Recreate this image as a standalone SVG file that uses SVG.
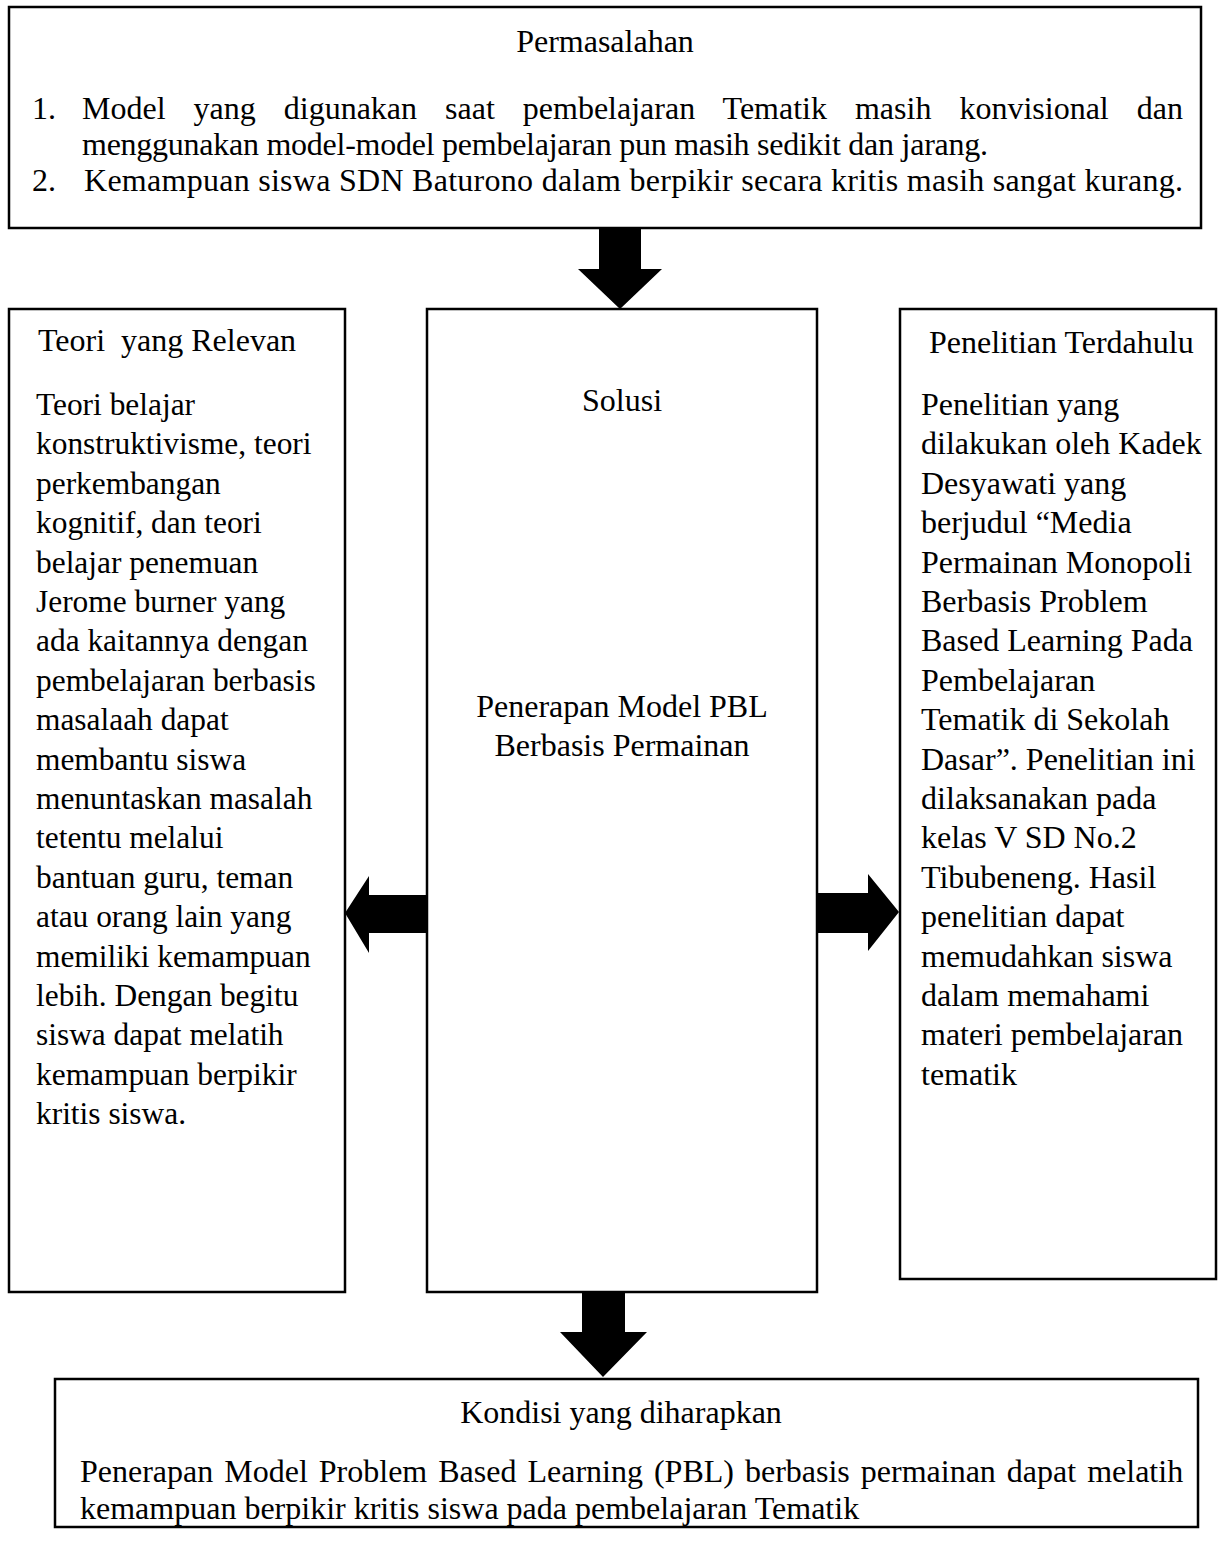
<svg xmlns="http://www.w3.org/2000/svg" width="1225" height="1551" viewBox="0 0 1225 1551">
<style>
.box{fill:#fff;stroke:#000;stroke-width:2.5}
.t{font-family:"Liberation Serif","Times New Roman",serif;font-size:32px;fill:#000}
.s{font-size:31.4px}
.c{text-anchor:middle}
.arr{fill:#000;stroke:none}
</style>
<rect width="1225" height="1551" fill="#fff"/>
<g id="permasalahan">
<rect class="box" x="9" y="7" width="1192" height="221"/>
<text class="t c" x="605" y="52">Permasalahan</text>
<text class="t" x="32" y="119">1.</text>
<text class="t" x="82" y="119" word-spacing="20">Model yang digunakan saat pembelajaran Tematik masih konvisional dan</text>
<text class="t" x="82" y="155" textLength="906" lengthAdjust="spacing">menggunakan model-model pembelajaran pun masih sedikit dan jarang.</text>
<text class="t" x="32" y="191">2.</text>
<text class="t" x="84" y="191" textLength="1099" lengthAdjust="spacing">Kemampuan siswa SDN Baturono dalam berpikir secara kritis masih sangat kurang.</text>
</g>
<g id="teori">
<rect class="box" x="9" y="309" width="336" height="983"/>
<text class="t" x="38" y="351" xml:space="preserve">Teori  yang Relevan</text>
<text class="t s" x="36" y="415">
<tspan x="36" dy="0">Teori belajar</tspan>
<tspan x="36" dy="39.4">konstruktivisme, teori</tspan>
<tspan x="36" dy="39.4">perkembangan</tspan>
<tspan x="36" dy="39.4">kognitif, dan teori</tspan>
<tspan x="36" dy="39.4">belajar penemuan</tspan>
<tspan x="36" dy="39.4">Jerome burner yang</tspan>
<tspan x="36" dy="39.4">ada kaitannya dengan</tspan>
<tspan x="36" dy="39.4">pembelajaran berbasis</tspan>
<tspan x="36" dy="39.4">masalaah dapat</tspan>
<tspan x="36" dy="39.4">membantu siswa</tspan>
<tspan x="36" dy="39.4">menuntaskan masalah</tspan>
<tspan x="36" dy="39.4">tetentu melalui</tspan>
<tspan x="36" dy="39.4">bantuan guru, teman</tspan>
<tspan x="36" dy="39.4">atau orang lain yang</tspan>
<tspan x="36" dy="39.4">memiliki kemampuan</tspan>
<tspan x="36" dy="39.4">lebih. Dengan begitu</tspan>
<tspan x="36" dy="39.4">siswa dapat melatih</tspan>
<tspan x="36" dy="39.4">kemampuan berpikir</tspan>
<tspan x="36" dy="39.4">kritis siswa.</tspan>
</text>
</g>
<g id="solusi">
<rect class="box" x="427" y="309" width="390" height="983"/>
<text class="t c" x="622" y="411">Solusi</text>
<text class="t c" x="622" y="717">Penerapan Model PBL</text>
<text class="t c" x="622" y="756">Berbasis Permainan</text>
</g>
<g id="penelitian">
<rect class="box" x="900" y="309" width="316" height="970"/>
<text class="t" x="929" y="353">Penelitian Terdahulu</text>
<text class="t" x="921" y="415">
<tspan x="921" dy="0">Penelitian yang</tspan>
<tspan x="921" dy="39.4">dilakukan oleh Kadek</tspan>
<tspan x="921" dy="39.4">Desyawati yang</tspan>
<tspan x="921" dy="39.4">berjudul “Media</tspan>
<tspan x="921" dy="39.4">Permainan Monopoli</tspan>
<tspan x="921" dy="39.4">Berbasis Problem</tspan>
<tspan x="921" dy="39.4">Based Learning Pada</tspan>
<tspan x="921" dy="39.4">Pembelajaran</tspan>
<tspan x="921" dy="39.4">Tematik di Sekolah</tspan>
<tspan x="921" dy="39.4">Dasar”. Penelitian ini</tspan>
<tspan x="921" dy="39.4">dilaksanakan pada</tspan>
<tspan x="921" dy="39.4">kelas V SD No.2</tspan>
<tspan x="921" dy="39.4">Tibubeneng. Hasil</tspan>
<tspan x="921" dy="39.4">penelitian dapat</tspan>
<tspan x="921" dy="39.4">memudahkan siswa</tspan>
<tspan x="921" dy="39.4">dalam memahami</tspan>
<tspan x="921" dy="39.4">materi pembelajaran</tspan>
<tspan x="921" dy="39.4">tematik</tspan>
</text>
</g>
<g id="kondisi">
<rect class="box" x="55" y="1379" width="1143" height="148"/>
<text class="t c" x="621" y="1423">Kondisi yang diharapkan</text>
<text class="t" x="80" y="1482" word-spacing="3">Penerapan Model Problem Based Learning (PBL) berbasis permainan dapat melatih</text>
<text class="t" x="80" y="1519">kemampuan berpikir kritis siswa pada pembelajaran Tematik</text>
</g>
<g id="connectors">
<polygon class="arr" points="599,229 641,229 641,269 662,269 620,309 578,269 599,269"/>
<polygon class="arr" points="427,895 369,895 369,876 345,913 369,953 369,933 427,933"/>
<polygon class="arr" points="817,893 868,893 868,874 899,912 868,951 868,933 817,933"/>
<polygon class="arr" points="582,1293 625,1293 625,1332 647,1332 603,1377 560,1332 582,1332"/>
</g>
</svg>
